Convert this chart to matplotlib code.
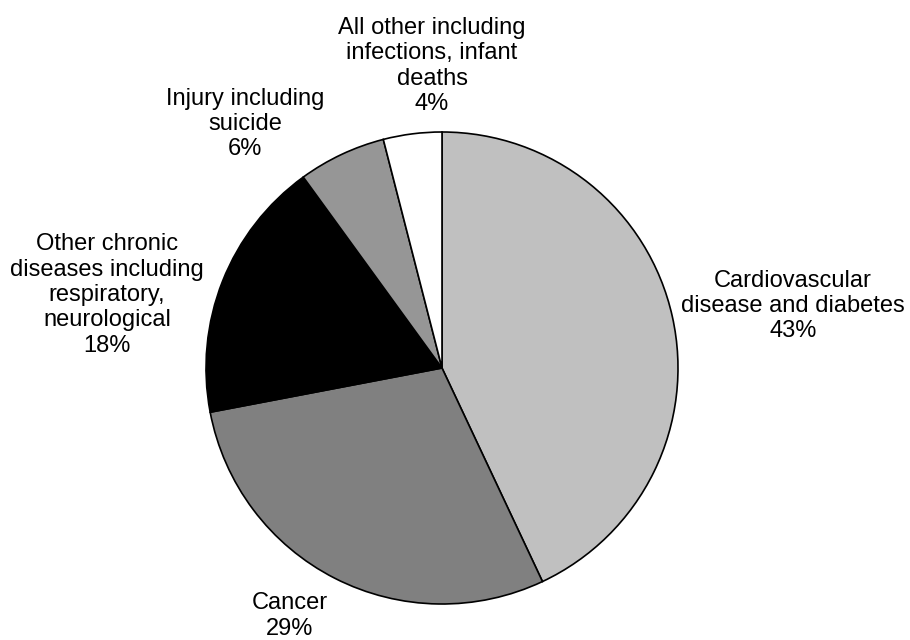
import matplotlib.pyplot as plt

plt.rcParams['font.family'] = ['Liberation Sans', 'DejaVu Sans']

causes = ["Cardiovascular\ndisease and diabetes", "Cancer",
          "Other chronic\ndiseases including\nrespiratory,\nneurological",
          "Injury including\nsuicide", "All other including\ninfections, infant\ndeaths"]
shares = [43, 29, 18, 6, 4]
colors = ["#c0c0c0", "#808080", "#000000", "#969696", "#ffffff"]
# label centres, in units of the pie radius
label_xy = [(1.487, 0.263), (-0.646, -1.051), (-1.419, 0.309),
            (-0.835, 1.034), (-0.042, 1.280)]

fig = plt.figure(figsize=(9.1, 6.4), dpi=100)
ax = fig.add_axes([0, 0, 1, 1])

ax.pie(shares, colors=colors, startangle=90, counterclock=False,
       radius=1.0, wedgeprops=dict(edgecolor="black", linewidth=1.2))

for name, val, (x, y) in zip(causes, shares, label_xy):
    ax.text(x, y, f"{name}\n{val}%", ha="center", va="center",
            fontsize=17, linespacing=1.2)

ax.set_xlim(-442 / 236, 468 / 236)
ax.set_ylim(-272 / 236, 368 / 236)
ax.set_aspect("equal")
ax.axis("off")

fig.savefig("out.png", dpi=100)
